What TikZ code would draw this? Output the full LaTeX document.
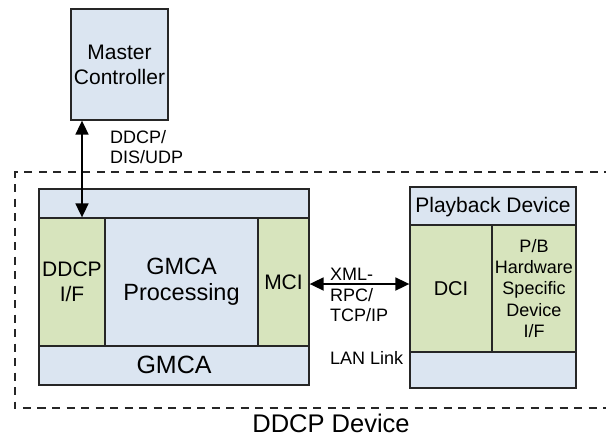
\documentclass[tikz,border=0pt]{standalone}
\usepackage{fontspec}
\setmainfont{Liberation Sans}
\usetikzlibrary{arrows.meta}
\definecolor{lblue}{HTML}{DBE5F1}
\definecolor{lgreen}{HTML}{D7E4BD}
\begin{document}
\begin{tikzpicture}[x=1pt,y=-1pt,
  box/.style={draw=black!85,line width=1.3pt,inner sep=0pt,align=center,anchor=center},
  bl/.style={box,fill=lblue},
  gr/.style={box,fill=lgreen},
  boxfont/.style={font=\fontsize{21}{25}\selectfont},
  conn/.style={line width=1.8pt,{Triangle[length=14pt,width=13pt]}-{Triangle[length=14pt,width=13pt]}},
  lbl/.style={font=\fontsize{18}{20.5}\selectfont,align=left,inner sep=0pt,anchor=west}
]
\useasboundingbox (0,0) rectangle (606,437);
% dashed device boundary
\draw[line width=1.6pt,dash pattern=on 8pt off 6.5pt,black!85] (612,172) -- (15,172) -- (15,408) -- (612,408);
\node[font=\fontsize{25.5}{29}\selectfont,inner sep=0pt] (dev) at (331,423.5) {DDCP Device};
% master controller
\node[bl,boxfont,minimum width=97pt,minimum height=111pt] (mc) at (119.5,64.5) {Master\\Controller};
% GMCA
\node[bl,minimum width=270pt,minimum height=196pt] (gmca) at (174,287) {};
\node[font=\fontsize{25}{29}\selectfont,inner sep=0pt] (gmcat) at (174,365) {GMCA};
\node[gr,boxfont,minimum width=66pt,minimum height=128pt] (ddcp) at (72,282) {DDCP\\I/F};
\node[bl,font=\fontsize{23.5}{26}\selectfont,minimum width=153pt,minimum height=128pt] (proc) at (181.5,282) {GMCA\\Processing};
\node[gr,boxfont,minimum width=51pt,minimum height=128pt] (mci) at (283.5,282) {MCI};
% Playback device
\node[bl,minimum width=166pt,minimum height=201pt] (pb) at (493,287.5) {};
\node[boxfont,inner sep=0pt] (pbt) at (493,207) {Playback Device};
\node[gr,font=\fontsize{20}{25}\selectfont,minimum width=82pt,minimum height=127pt] (dci) at (451,288.5) {DCI};
\node[gr,font=\fontsize{18}{21.2}\selectfont,minimum width=84pt,minimum height=127pt] (pbhw) at (534,288.5) {P/B\\Hardware\\Specific\\Device\\I/F};
% connectors
\coordinate (ax) at (82,0);
\coordinate (ay) at (0,284);
\draw[conn] (mc.south -| ax) -- (ddcp.north -| ax);
\draw[conn] (mci.east |- ay) -- (dci.west |- ay);
% labels
\node[lbl] (l1) at (110,147) {DDCP/\\DIS/UDP};
\node[lbl] (l2) at (330,295) {XML-\\RPC/\\TCP/IP};
\node[lbl] (l3) at (330,358) {LAN Link};
\end{tikzpicture}
\end{document}
